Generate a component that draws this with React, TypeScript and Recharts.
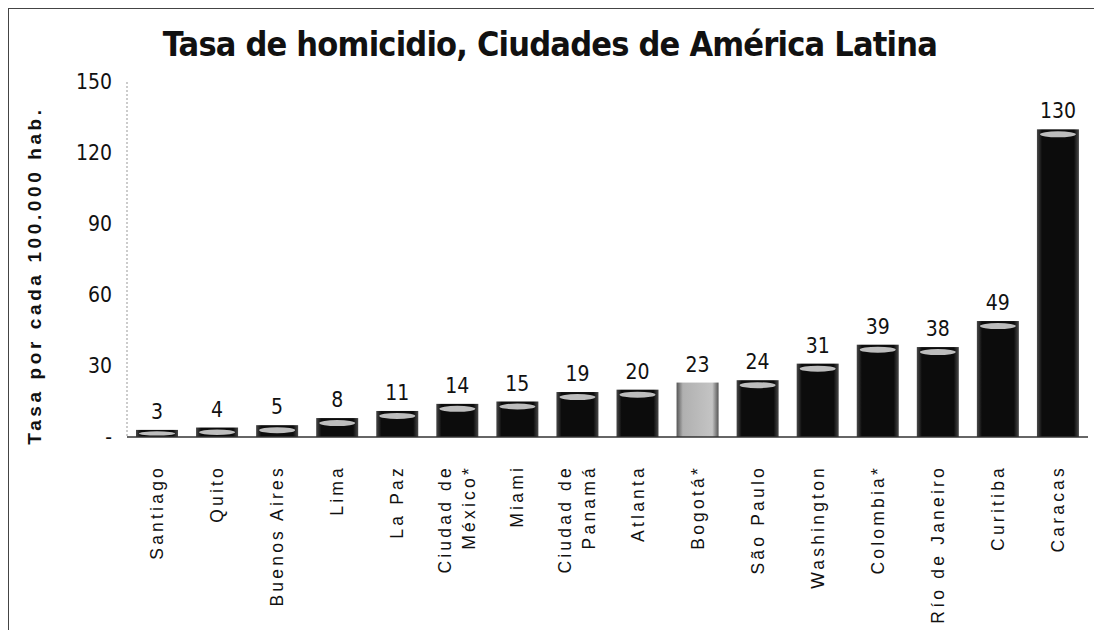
import React from 'react';
import { BarChart, Bar, XAxis, YAxis, LabelList } from 'recharts';

const cities = [
  'Santiago', 'Quito', 'Buenos Aires', 'Lima', 'La Paz', 'Ciudad de\nMéxico*', 'Miami',
  'Ciudad de\nPanamá', 'Atlanta', 'Bogotá*', 'São Paulo', 'Washington', 'Colombia*',
  'Río de Janeiro', 'Curitiba', 'Caracas',
];
const rates = [3, 4, 5, 8, 11, 14, 15, 19, 20, 23, 24, 31, 39, 38, 49, 130];
const highlighted = ['Bogotá*'];
const yTicks = [0, 30, 60, 90, 120, 150];

const data = cities.map((name, i) => ({ name, rate: rates[i] }));

const narrow = '"DejaVu Sans Condensed", "Liberation Sans Narrow", "Liberation Sans", sans-serif';
const sans = '"Liberation Sans", Arial, sans-serif';

const CylBar = (props: any) => {
  const { x, y, width, height, payload } = props;
  if (!height || height <= 0) return null;
  const light = highlighted.includes(payload.name);
  const rim = Math.min(5, height / 2);
  return (
    <g>
      <rect x={x} y={y} width={width} height={height} fill={light ? 'url(#barGray)' : 'url(#barDark)'} />
      {!light && (
        <ellipse cx={x + width / 2} cy={y + rim} rx={width / 2 - 3} ry={rim * 0.6} fill="#bdbdbd" />
      )}
    </g>
  );
};

const CityTick = (props: any) => {
  const { x, y, payload } = props;
  const lines = String(payload.value).split('\n');
  const n = lines.length;
  return (
    <g transform={`translate(${x},${y + 20})`}>
      {lines.map((l, i) => (
        <text
          key={i}
          transform="rotate(-90)"
          x={0}
          y={(i - (n - 1) / 2) * 24 + 6}
          textAnchor="end"
          fontFamily={sans}
          fontSize={17.5}
          letterSpacing={3.2}
          fill="#111"
        >
          {l}
        </text>
      ))}
    </g>
  );
};

const YTitle = (props: any) => {
  const { viewBox } = props;
  const cx = viewBox.x + 36;
  const cy = viewBox.y + viewBox.height / 2 + 16;
  return (
    <text
      transform={`translate(${cx},${cy}) rotate(-90)`}
      textAnchor="middle"
      dominantBaseline="middle"
      fontFamily={sans}
      fontWeight="bold"
      fontSize={19}
      letterSpacing={3.6}
      fill="#111"
    >
      Tasa por cada 100.000 hab.
    </text>
  );
};

export default function App() {
  return (
    <div style={{ position: 'absolute', left: 0, top: 0, width: 1094, height: 630, background: '#fff' }}>
      <div
        style={{
          position: 'absolute', left: 8, top: 8, right: 0, bottom: 0,
          borderTop: '1.5px solid #444', borderLeft: '1.5px solid #444',
        }}
      />
      <div
        style={{
          position: 'absolute', left: 0, width: 1100, top: 24, textAlign: 'center',
          fontFamily: narrow, fontWeight: 'bold', fontSize: 34, letterSpacing: -0.8, color: '#111',
        }}
      >
        Tasa de homicidio, Ciudades de América Latina
      </div>
      <BarChart
        width={1094}
        height={630}
        data={data}
        margin={{ top: 82, right: 6, bottom: 0, left: 0 }}
        barSize={42}
      >
        <defs>
          <linearGradient id="barDark" x1="0" y1="0" x2="1" y2="0">
            <stop offset="0%" stopColor="#4a4a4a" />
            <stop offset="12%" stopColor="#0c0c0c" />
            <stop offset="88%" stopColor="#0c0c0c" />
            <stop offset="100%" stopColor="#4a4a4a" />
          </linearGradient>
          <linearGradient id="barGray" x1="0" y1="0" x2="1" y2="0">
            <stop offset="0%" stopColor="#555" />
            <stop offset="15%" stopColor="#b0b0b0" />
            <stop offset="85%" stopColor="#c4c4c4" />
            <stop offset="100%" stopColor="#555" />
          </linearGradient>
        </defs>
        <XAxis
          dataKey="name"
          interval={0}
          height={193}
          tick={<CityTick />}
          tickLine={false}
          axisLine={{ stroke: '#333', strokeWidth: 1.5 }}
        />
        <XAxis
          xAxisId="top"
          orientation="top"
          dataKey="name"
          height={0}
          tick={false}
          tickLine={false}
          axisLine={{ stroke: '#999', strokeDasharray: '2 2' }}
        />
        <YAxis
          width={127}
          domain={[0, 150]}
          ticks={yTicks}
          interval={0}
          tickSize={0}
          tickMargin={15}
          tickLine={false}
          tickFormatter={(v: number) => (v === 0 ? '-' : String(v))}
          tick={{ fontFamily: narrow, fontSize: 21, fill: '#111' }}
          axisLine={{ stroke: '#999', strokeDasharray: '2 2' }}
          label={<YTitle />}
        />
        <YAxis
          yAxisId="right"
          orientation="right"
          width={0}
          domain={[0, 150]}
          tick={false}
          tickLine={false}
          axisLine={{ stroke: '#999', strokeDasharray: '2 2' }}
        />
        <Bar dataKey="rate" shape={<CylBar />} isAnimationActive={false}>
          <LabelList
            dataKey="rate"
            position="top"
            offset={11}
            style={{ fontFamily: narrow, fontSize: 21, fill: '#111' }}
          />
        </Bar>
      </BarChart>
    </div>
  );
}
